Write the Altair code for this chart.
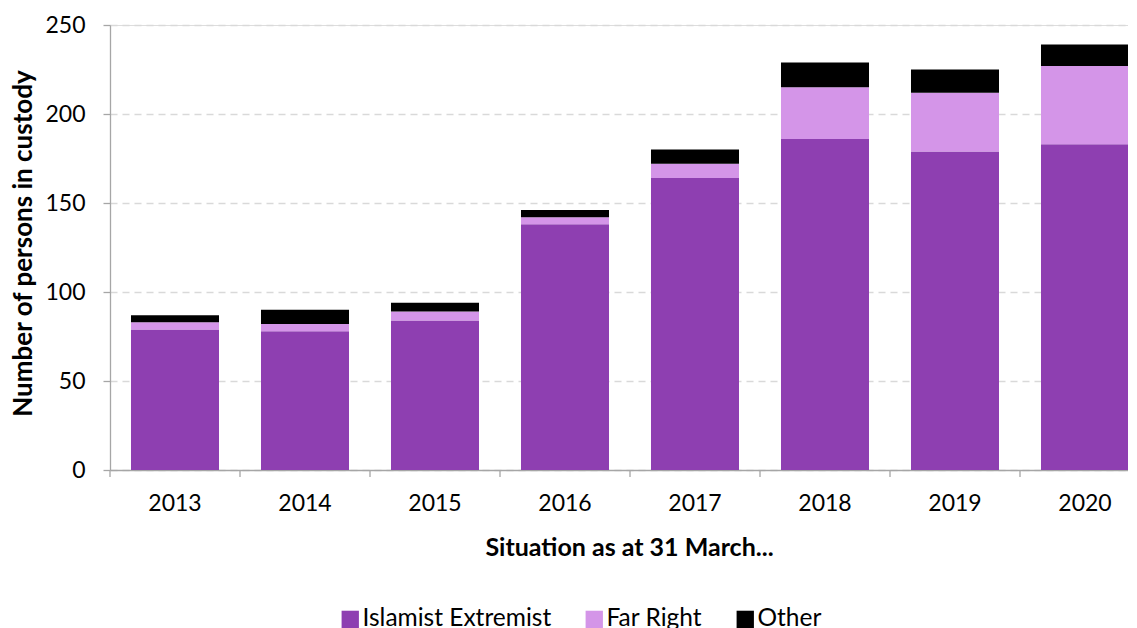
import altair as alt
import pandas as pd

years = ["2013", "2014", "2015", "2016", "2017", "2018", "2019", "2020"]
islamist = [79, 78, 84, 138, 164, 186, 179, 183]
far_right = [4, 4, 5, 4, 8, 29, 33, 44]
other = [4, 8, 5, 4, 8, 14, 13, 12]

groups = ["Islamist Extremist", "Far Right", "Other"]
colors = ["#8E3FB1", "#D495E8", "#000000"]

rows = []
for i, y in enumerate(years):
    for k, (g, vals) in enumerate(zip(groups, [islamist, far_right, other])):
        rows.append({"year": y, "group": g, "value": vals[i], "order": k})
df = pd.DataFrame(rows)
ticks_df = pd.DataFrame({"year": years})

xscale = alt.Scale(range=[0, 1040], paddingInner=0.323, paddingOuter=0.1615)

bars = alt.Chart(df).mark_bar().encode(
    x=alt.X("year:N", scale=xscale, sort=years,
            axis=alt.Axis(title="Situation as at 31 March...", ticks=False,
                          labelPadding=22, labelAngle=0, labelFontSize=23,
                          labelColor="#000000", domainColor="#a6a6a6", domainWidth=1.3,
                          titleFontSize=25, titleFontWeight="bold", titleColor="#000000",
                          titleX=519, titleY=77, titleBaseline="middle", titleAlign="center")),
    y=alt.Y("value:Q", stack="zero",
            scale=alt.Scale(domain=[0, 250], nice=False),
            axis=alt.Axis(title="Number of persons in custody", values=[0, 50, 100, 150, 200, 250],
                          tickSize=7, tickColor="#a6a6a6", tickWidth=1.3,
                          domainColor="#a6a6a6", domainWidth=1.3,
                          labelPadding=18, labelFontSize=23, labelColor="#000000",
                          grid=True, gridDash=[7, 5], gridColor="#d9d9d9", gridWidth=1.3,
                          titleFontSize=26, titleFontWeight="bold", titleColor="#000000",
                          titleX=-87, titleY=218, titleAngle=-90,
                          titleBaseline="middle", titleAlign="center")),
    color=alt.Color("group:N", scale=alt.Scale(domain=groups, range=colors),
                    legend=alt.Legend(title=None, orient="none", direction="horizontal",
                                      legendX=228, legendY=582, symbolType="square",
                                      symbolSize=300, symbolStrokeWidth=0,
                                      labelFontSize=24.5, labelColor="#000000", labelLimit=0,
                                      columnPadding=30, labelOffset=0)),
    order=alt.Order("order:Q", sort="ascending"),
)

xticks = alt.Chart(ticks_df).mark_rule(xOffset=-65, color="#a6a6a6", strokeWidth=1.3).encode(
    x=alt.X("year:N", scale=xscale, sort=years),
    y=alt.value(445),
    y2=alt.value(452),
)

chart = alt.layer(bars, xticks).properties(
    width=1018, height=445,
    autosize=alt.AutoSizeParams(type="none"),
    padding={"left": 102, "top": 17, "right": 0, "bottom": 158},
).configure_view(stroke=None).configure(font="Lato")

chart.save("out.html", embed_options={"renderer": "svg", "actions": False})
